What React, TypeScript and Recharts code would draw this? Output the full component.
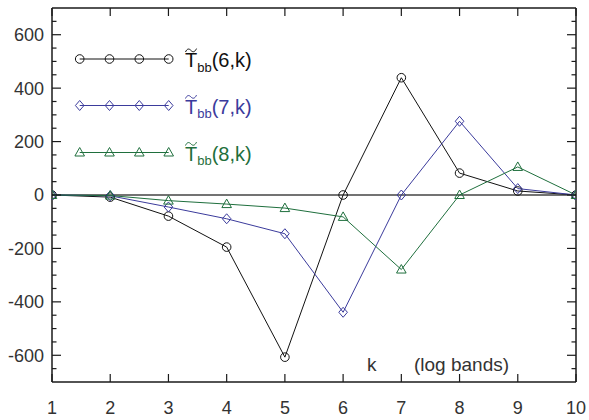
import React from 'react';
import { LineChart, Line, XAxis, YAxis, ReferenceLine } from 'recharts';

// k (log bands)
const K_VALUES = [1, 2, 3, 4, 5, 6, 7, 8, 9, 10];
// T~bb(n,k)
const T6 = [0, -8, -79, -195, -607, 0, 439, 82, 15, 0];
const T7 = [0, -3, -45, -89, -145, -439, 0, 276, 24, 0];
const T8 = [0, -2, -21, -34, -49, -82, -279, 0, 105, 0];

const SERIES_KEYS = ['t6', 't7', 't8'];
const SERIES_LABELS = ['6', '7', '8'];
const SERIES_COLORS = ['#111111', '#3b3b9c', '#1f6f3d'];
const SERIES_SHAPES = ['circle', 'diamond', 'triangle'];

const X_TICKS = K_VALUES;
const Y_TICKS: number[] = [];
for (let v = -650; v <= 650; v += 50) Y_TICKS.push(v);

const FONT = '"Liberation Sans", Arial, Helvetica, sans-serif';
const FRAME = '#1a1a1a';
const LABEL = '#333333';

const rows = K_VALUES.map((k, i) => ({ k, t6: T6[i], t7: T7[i], t8: T8[i] }));

const Marker = ({ shape, cx, cy, color }: { shape: string; cx: number; cy: number; color: string }) => {
  if (cx == null || cy == null) return null;
  if (shape === 'circle') {
    return <circle cx={cx} cy={cy} r={4.3} fill="none" stroke={color} strokeWidth={1} />;
  }
  if (shape === 'diamond') {
    return (
      <path
        d={`M${cx} ${cy - 5}L${cx + 4.3} ${cy}L${cx} ${cy + 5}L${cx - 4.3} ${cy}Z`}
        fill="none"
        stroke={color}
        strokeWidth={1}
      />
    );
  }
  return (
    <path
      d={`M${cx} ${cy - 5}L${cx + 4.8} ${cy + 3.5}L${cx - 4.8} ${cy + 3.5}Z`}
      fill="none"
      stroke={color}
      strokeWidth={1}
    />
  );
};

const BottomTick = ({ x, y, payload }: any) => (
  <g>
    <line x1={x} x2={x} y1={y} y2={y - 8} stroke={FRAME} strokeWidth={1.2} />
    <text x={x} y={y + 31.5} textAnchor="middle" fontSize={18} fontFamily={FONT} fill={LABEL}>
      {payload.value}
    </text>
  </g>
);

const TopTick = ({ x, y }: any) => (
  <line x1={x} x2={x} y1={y} y2={y + 8} stroke={FRAME} strokeWidth={1.2} />
);

const LeftTick = ({ x, y, payload }: any) => {
  const major = payload.value % 200 === 0;
  return (
    <g>
      <line x1={x} x2={x + (major ? 9 : 4.5)} y1={y} y2={y} stroke={FRAME} strokeWidth={1.2} />
      {major && (
        <text x={x - 8} y={y} dy="0.36em" textAnchor="end" fontSize={18} fontFamily={FONT} fill={LABEL}>
          {payload.value}
        </text>
      )}
    </g>
  );
};

const RightTick = ({ x, y, payload }: any) => {
  const major = payload.value % 200 === 0;
  return <line x1={x} x2={x - (major ? 9 : 4.5)} y1={y} y2={y} stroke={FRAME} strokeWidth={1.2} />;
};

const LegendOverlay = () => {
  const rowY = [59, 105.5, 152.5];
  const markerX = [79.7, 109.5, 139.3, 168.7];
  return (
    <svg
      width={589}
      height={420}
      style={{ position: 'absolute', left: 0, top: 0, pointerEvents: 'none' }}
    >
      {SERIES_KEYS.map((key, i) => {
        const y = rowY[i];
        const c = SERIES_COLORS[i];
        return (
          <g key={key}>
            <line x1={markerX[0]} x2={markerX[3]} y1={y} y2={y} stroke={c} strokeWidth={1} />
            {markerX.map((mx, j) => (
              <Marker key={j} shape={SERIES_SHAPES[i]} cx={mx} cy={y} color={c} />
            ))}
            <path
              d={`M185.5 ${y - 7}c1.6 -3.6 3.6 -3.6 5.4 -1.6s3.8 2 5.6 -1.8`}
              fill="none"
              stroke={c}
              strokeWidth={1}
            />
            <text x={185} y={y + 8} fontSize={20} fontFamily={FONT} fill={c}>
              T
              <tspan fontSize={13} dy={4.5}>
                bb
              </tspan>
              <tspan fontSize={20} dy={-4.5}>
                ({SERIES_LABELS[i]},k)
              </tspan>
            </text>
          </g>
        );
      })}
      <text x={367} y={371} fontSize={19} fontFamily={FONT} fill={LABEL}>
        k
      </text>
      <text x={414} y={371} fontSize={19} fontFamily={FONT} fill={LABEL}>
        (log bands)
      </text>
    </svg>
  );
};

export default function App() {
  return (
    <div
      style={{
        position: 'absolute',
        left: 0,
        top: 0,
        width: 589,
        height: 420,
        background: '#ffffff',
        fontFamily: FONT,
      }}
    >
      <LineChart width={589} height={420} data={rows} margin={{ top: 7, right: 12, bottom: 0, left: 0 }}>
        <XAxis
          xAxisId="b"
          dataKey="k"
          type="number"
          domain={[1, 10]}
          ticks={X_TICKS}
          interval={0}
          height={38}
          tickSize={0}
          tickMargin={0}
          tickLine={false}
          tick={<BottomTick />}
          axisLine={{ stroke: FRAME, strokeWidth: 1.5 }}
          allowDataOverflow
        />
        <XAxis
          xAxisId="t"
          orientation="top"
          dataKey="k"
          type="number"
          domain={[1, 10]}
          ticks={X_TICKS}
          interval={0}
          height={1}
          tickSize={0}
          tickMargin={0}
          tickLine={false}
          tick={<TopTick />}
          axisLine={{ stroke: FRAME, strokeWidth: 1.5 }}
          allowDataOverflow
        />
        <YAxis
          yAxisId="l"
          type="number"
          domain={[-700, 700]}
          ticks={Y_TICKS}
          interval={0}
          width={52}
          tickSize={0}
          tickMargin={0}
          tickLine={false}
          tick={<LeftTick />}
          axisLine={{ stroke: FRAME, strokeWidth: 1.5 }}
          allowDataOverflow
        />
        <YAxis
          yAxisId="r"
          orientation="right"
          type="number"
          domain={[-700, 700]}
          ticks={Y_TICKS}
          interval={0}
          width={1}
          tickSize={0}
          tickMargin={0}
          tickLine={false}
          tick={<RightTick />}
          axisLine={{ stroke: FRAME, strokeWidth: 1.5 }}
          allowDataOverflow
        />
        <ReferenceLine xAxisId="b" yAxisId="l" y={0} stroke="#444444" strokeWidth={1.5} />
        {/* invisible copy so the top / right frame axes have a series bound to them */}
        <Line
          xAxisId="t"
          yAxisId="r"
          dataKey="t6"
          stroke="none"
          dot={false}
          activeDot={false}
          legendType="none"
          isAnimationActive={false}
        />
        {SERIES_KEYS.map((key, i) => (
          <Line
            key={key}
            xAxisId="b"
            yAxisId="l"
            dataKey={key}
            type="linear"
            stroke={SERIES_COLORS[i]}
            strokeWidth={1}
            dot={(p: any) => (
              <Marker key={`${key}-${p.index}`} shape={SERIES_SHAPES[i]} cx={p.cx} cy={p.cy} color={SERIES_COLORS[i]} />
            )}
            activeDot={false}
            isAnimationActive={false}
          />
        ))}
      </LineChart>
      <LegendOverlay />
    </div>
  );
}
